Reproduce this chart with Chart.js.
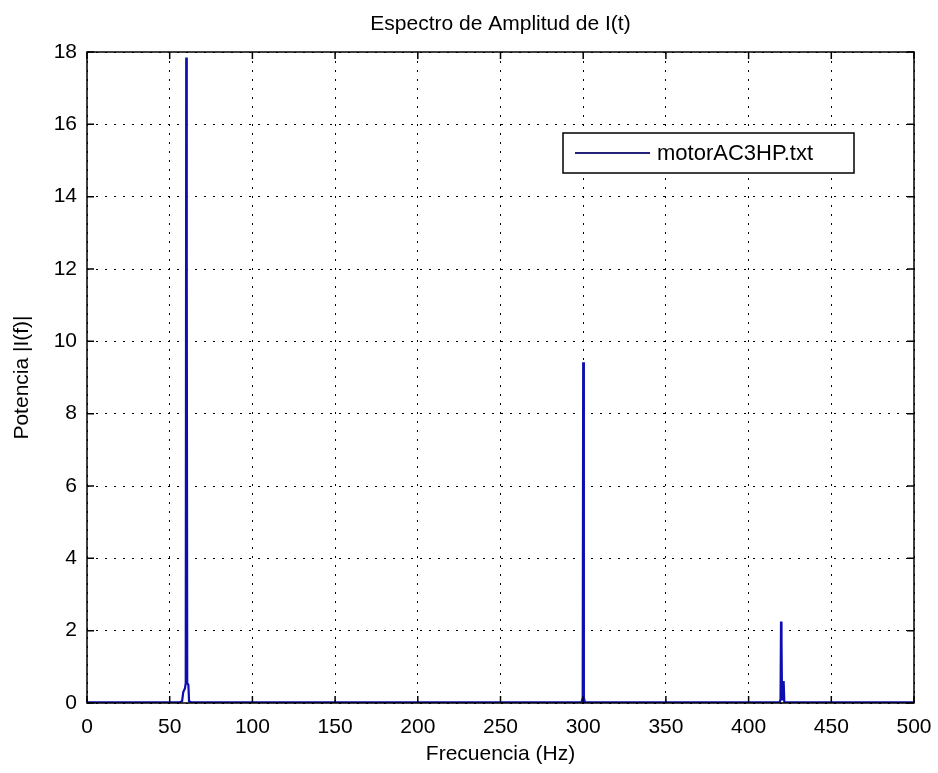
<!DOCTYPE html>
<html>
<head>
<meta charset="utf-8">
<title>Espectro de Amplitud de I(t)</title>
<script src="https://cdn.jsdelivr.net/npm/chart.js@4.4.1/dist/chart.umd.min.js"></script>
<style>
  html, body { margin: 0; padding: 0; background: #fff; }
  #wrap { width: 938px; height: 773px; }
</style>
</head>
<body>
<div id="wrap"><canvas id="espectro" width="938" height="773"></canvas></div>
<script>
  // frecuencias (Hz) y amplitudes |I(f)|
  const frecuencia = [0, 56, 57.5, 58.2, 59.2, 59.7, 60, 60.3, 60.6, 61.3, 61.7, 63,
                      299, 299.7, 300, 300.4, 301,
                      418.8, 419.3, 419.6, 419.9, 420.2, 420.5, 421.2, 421.6, 500];
  const amplitud   = [0.02, 0.02, 0.05, 0.3, 0.4, 0.55, 17.85, 11.95, 0.55, 0.5, 0.05, 0.02,
                      0.02, 0.15, 9.42, 0.15, 0.02,
                      0.02, 0.1, 2.25, 1.7, 0.1, 0.58, 0.58, 0.02, 0.02];
  const xTicks = [0, 50, 100, 150, 200, 250, 300, 350, 400, 450, 500];
  const yTicks = [0, 2, 4, 6, 8, 10, 12, 14, 16, 18];

  const FUENTE = "'Liberation Sans', Arial, sans-serif";
  const AZUL = "#0d0db0";

  // caja completa + marcas hacia adentro (estilo matlab), titulo y leyenda
  const marcoMatlab = {
    id: "marcoMatlab",
    afterDraw(chart) {
      const { ctx, chartArea: a, scales: { x, y } } = chart;
      ctx.save();
      ctx.strokeStyle = "#000";
      ctx.lineWidth = 1.5;
      ctx.strokeRect(a.left, a.top, a.right - a.left, a.bottom - a.top);
      const L = 7;
      ctx.beginPath();
      xTicks.forEach((v) => {
        const px = x.getPixelForValue(v);
        ctx.moveTo(px, a.bottom); ctx.lineTo(px, a.bottom - L);
        ctx.moveTo(px, a.top); ctx.lineTo(px, a.top + L);
      });
      yTicks.forEach((v) => {
        const py = y.getPixelForValue(v);
        ctx.moveTo(a.left, py); ctx.lineTo(a.left + L, py);
        ctx.moveTo(a.right, py); ctx.lineTo(a.right - L, py);
      });
      ctx.stroke();

      // titulo
      ctx.fillStyle = "#000";
      ctx.font = "21px " + FUENTE;
      ctx.textAlign = "center";
      ctx.textBaseline = "middle";
      ctx.fillText("Espectro de Amplitud de I(t)", (a.left + a.right) / 2, 24);

      // leyenda
      const bx = 563, by = 133, bw = 291, bh = 40;
      ctx.fillStyle = "#fff";
      ctx.fillRect(bx, by, bw, bh);
      ctx.strokeStyle = "#000";
      ctx.lineWidth = 1.5;
      ctx.strokeRect(bx, by, bw, bh);
      ctx.strokeStyle = "#23237a";
      ctx.lineWidth = 2;
      ctx.beginPath();
      ctx.moveTo(575, by + bh / 2); ctx.lineTo(650, by + bh / 2);
      ctx.stroke();
      ctx.fillStyle = "#000";
      ctx.textAlign = "left";
      ctx.font = "22px " + FUENTE;
      ctx.fillText(chart.data.datasets[0].label, 657, by + bh / 2 + 1);
      ctx.restore();
    }
  };

  new Chart(document.getElementById("espectro"), {
    type: "line",
    data: {
      datasets: [{
        label: "motorAC3HP.txt",
        data: frecuencia.map((f, i) => ({ x: f, y: amplitud[i] })),
        borderColor: AZUL,
        borderWidth: 2.2,
        pointRadius: 0,
        tension: 0,
        fill: false
      }]
    },
    options: {
      responsive: false,
      animation: false,
      layout: { padding: { top: 52, right: 24, left: 0, bottom: 0 } },
      plugins: { legend: { display: false }, tooltip: { enabled: false } },
      scales: {
        x: {
          type: "linear", min: 0, max: 500,
          afterBuildTicks: (s) => { s.ticks = xTicks.map((v) => ({ value: v })); },
          afterFit: (s) => { s.height = 70; s.paddingLeft = 0; s.paddingRight = 0; },
          ticks: { color: "#000", padding: 12, font: { family: FUENTE, size: 21 }, maxRotation: 0 },
          grid: { color: "#000", lineWidth: 1, drawTicks: false },
          border: { display: false, dash: [2, 7] },
          title: { display: true, text: "Frecuencia (Hz)", color: "#000", font: { family: FUENTE, size: 21 }, padding: { top: 0, bottom: 6 } }
        },
        y: {
          type: "linear", min: 0, max: 18,
          afterBuildTicks: (s) => { s.ticks = yTicks.map((v) => ({ value: v })); },
          afterFit: (s) => { s.width = 87; s.paddingTop = 0; s.paddingBottom = 0; },
          ticks: { color: "#000", padding: 10, font: { family: FUENTE, size: 21 } },
          grid: { color: "#000", lineWidth: 1, drawTicks: false },
          border: { display: false, dash: [2, 7] },
          title: { display: true, text: "Potencia |I(f)|", color: "#000", font: { family: FUENTE, size: 21 }, padding: { top: 10, bottom: 0 } }
        }
      }
    },
    plugins: [marcoMatlab]
  });
</script>
</body>
</html>
